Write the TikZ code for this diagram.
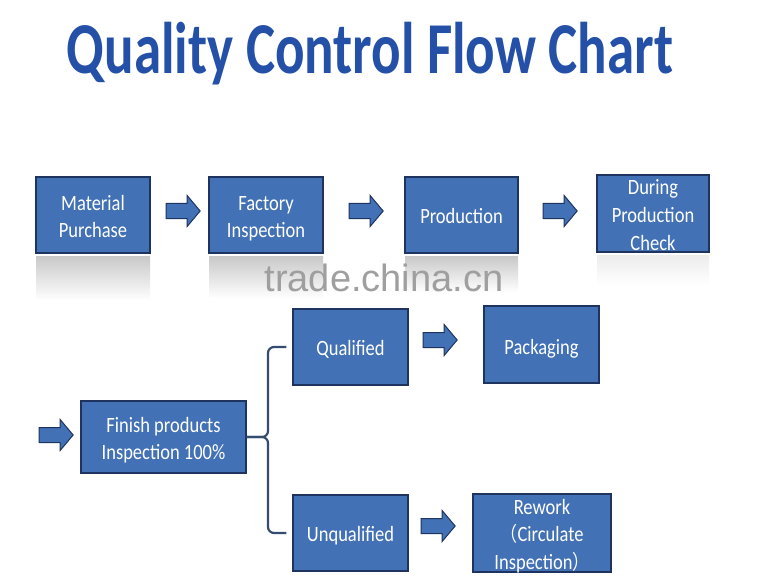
\documentclass[tikz,border=0pt]{standalone}
\usepackage{fontspec}
\usepackage{graphicx}
\setmainfont{Carlito}
\newfontfamily\cjk{Noto Sans CJK SC}
\newfontfamily\wmfont{Liberation Sans}
\usetikzlibrary{shapes.arrows}
\definecolor{boxfill}{RGB}{66,113,181}
\definecolor{boxline}{RGB}{30,52,95}
\definecolor{titleblue}{RGB}{36,80,168}
\definecolor{bracecol}{RGB}{52,76,112}
\newcommand\boxtext[2][8.5pt]{\smash{\raisebox{-#1}{\scalebox{1}[1.18]{\begin{tabular}{@{}c@{}}#2\end{tabular}}}}}
\tikzset{
  box/.style={draw=boxline, line width=1.4pt, fill=boxfill, text=white,
    font=\fontsize{18.5}{23.5}\selectfont, inner sep=0pt},
  blockarrow/.style={single arrow, draw=boxline, fill=boxfill, line width=1pt,
    minimum height=34pt, inner xsep=0pt, inner ysep=7pt,
    single arrow head extend=8pt, single arrow tip angle=100},
  bracestyle/.style={draw=bracecol, line width=2.2pt, rounded corners=6pt},
  reflect/.style={top color=gray!50, bottom color=white, draw=none, opacity=0.85}
}
\begin{document}
\begin{tikzpicture}[x=1pt,y=-1pt]
\useasboundingbox[fill=white] (0,0) rectangle (768,580);

% title
\node[anchor=base, font=\bfseries\fontsize{55}{55}\selectfont, text=titleblue] (title) at (370,74)
  {\scalebox{1}[1.33]{Quality Control Flow Chart}};

% top row boxes
\node[box, minimum width=114pt, minimum height=76pt] (mp) at (93,215) {\boxtext{Material\\Purchase}};
\node[box, minimum width=114pt, minimum height=76pt] (fi) at (266,215) {\boxtext{Factory\\Inspection}};
\node[box, minimum width=113pt, minimum height=76pt] (pr) at (461.5,215) {\boxtext{Production}};
\node[box, minimum width=112pt, minimum height=77pt] (dp) at (653,213.5)
  {\boxtext{During\\Production\\Check}};

% reflections
\shade[reflect] (36,256) rectangle (150,300);
\shade[reflect] (209,256) rectangle (323,298);
\shade[reflect] (405,256) rectangle (518,292);
\shade[top color=gray!15, bottom color=white, draw=none] (597,255) rectangle (709,285);

% watermark
\node[font=\wmfont\fontsize{38}{38}\selectfont, text=gray!75] (wm) at (384,278) {trade.china.cn};

% top arrows
\node[blockarrow] (a1) at (180,211) {};
\node[blockarrow] (a2) at (363,211) {};
\node[blockarrow] (a3) at (557,211) {};

% lower part
\node[blockarrow] (a4) at (53,435) {};
\node[box, minimum width=165pt, minimum height=72pt] (fp) at (163.5,437) {\boxtext{Finish products\\Inspection 100\%}};
\node[box, minimum width=115pt, minimum height=76pt] (q) at (350.5,347) {\boxtext{Qualified}};
\node[box, minimum width=115pt, minimum height=76pt] (uq) at (350.5,533) {\boxtext{Unqualified}};
\node[box, minimum width=115pt, minimum height=77pt] (pk) at (541.5,344.5) {\boxtext[10pt]{Packaging}};
\node[box, minimum width=138pt, minimum height=78pt] (rw) at (542,533)
  {\boxtext{Rework\\{\cjk\fontsize{17}{17}\selectfont （}Circulate\\Inspection{\cjk\fontsize{17}{17}\selectfont ）}}};
\node[blockarrow] (a5) at (437,340) {};
\node[blockarrow] (a6) at (435,526) {};

% brace
\coordinate (bx) at (268,440);
\draw[bracestyle] ([xshift=-6pt]q.west) -| (bx |- fp.east) -- (fp.east);
\draw[bracestyle] ([xshift=-6pt]uq.west) -| (bx |- fp.east) -- (fp.east);
\end{tikzpicture}
\end{document}
